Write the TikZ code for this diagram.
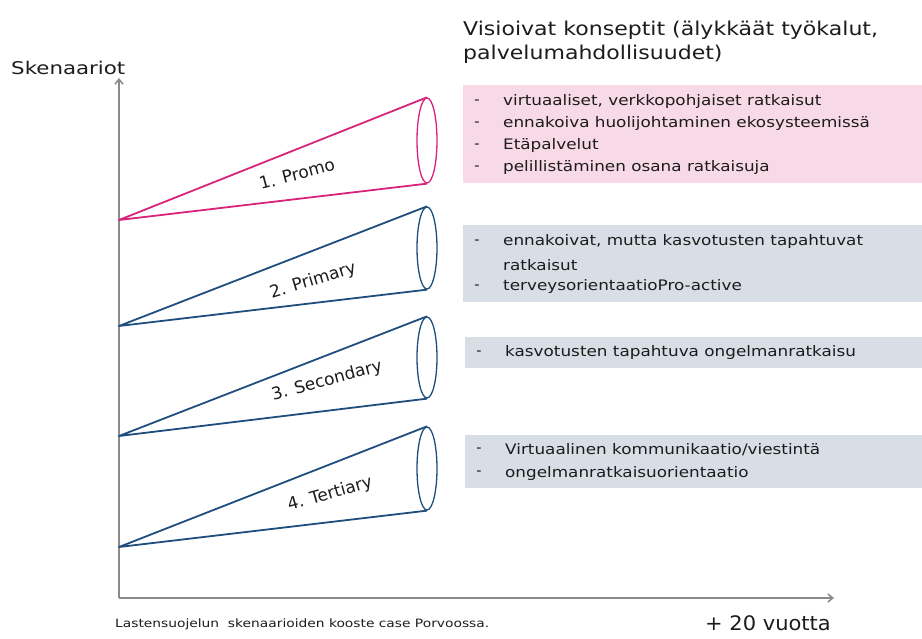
\documentclass[tikz,border=0pt]{standalone}
\usepackage{fontspec}
\setmainfont{DejaVu Sans}
\usetikzlibrary{shapes.geometric,arrows.meta}
\definecolor{promo}{HTML}{D9227A}
\definecolor{navy}{HTML}{1F4E7E}
\definecolor{pinkbg}{HTML}{F8D9E6}
\definecolor{bluebg}{HTML}{D7DEE6}
\definecolor{axisgray}{HTML}{8A8A8A}
\definecolor{txt}{HTML}{1C1C1C}
\newcommand\wx[2][1.15]{\scalebox{#1}[1]{#2}}
\begin{document}
\begin{tikzpicture}[x=1pt,y=-1pt,
  cone/.style={line width=1.8pt, line join=round},
  rim/.style={ellipse, draw, line width=1.3pt, minimum width=20pt, inner sep=0pt},
  lbl/.style={font=\fontsize{17}{20}\selectfont, text=txt, inner sep=0pt},
  box/.style={rectangle, anchor=north west, inner sep=0pt},
  item/.style={anchor=west, font=\fontsize{14.5}{17}\selectfont, text=txt, inner sep=0pt},
  bul/.style={anchor=center, font=\fontsize{14.5}{17}\selectfont, text=txt, inner sep=0pt},
  ax/.style={draw=axisgray, line width=1.5pt, -{Straight Barb[length=5pt,width=8pt]}}]
\useasboundingbox (0,0) rectangle (922,639);
% axes
\coordinate (O) at (119,598);
\coordinate (Ytop) at (119,78);
\coordinate (Xend) at (834,598);
\draw[ax] (O) -- (Ytop);
\draw[ax] (O) -- (Xend);
\node[anchor=west, font=\fontsize{17.5}{20}\selectfont, text=txt, inner sep=0pt] (ylab) at (11,68) {\wx[1.22]{Skenaariot}};
\node[anchor=center, font=\fontsize{20}{24}\selectfont, text=txt, inner sep=0pt] (xlab) at (768,623) {\wx[1.05]{+ 20 vuotta}};
\node[anchor=west, font=\fontsize{11.5}{12}\selectfont, text=txt, inner sep=0pt] (cap) at (115,624) {\wx[1.2]{Lastensuojelun\ \ skenaarioiden kooste case Porvoossa.}};
% title
\node[anchor=north west, font=\fontsize{19}{24}\selectfont, text=txt, inner sep=0pt] (title) at (463,19) {\wx[1.16]{\begin{tabular}{@{}l@{}}Visioivat konseptit (älykkäät työkalut,\\palvelumahdollisuudet)\end{tabular}}};
% cones
\coordinate (a1) at (119,220);
\coordinate (a2) at (119,326);
\coordinate (a3) at (119,436);
\coordinate (a4) at (119,547);
\node[rim, draw=promo, minimum height=85pt] (e1) at (427,140.5) {};
\node[rim, draw=navy, minimum height=82pt] (e2) at (427,248) {};
\node[rim, draw=navy, minimum height=81pt] (e3) at (427,357.5) {};
\node[rim, draw=navy, minimum height=83pt] (e4) at (427,468.5) {};
\draw[cone, draw=promo] (e1.north) -- (a1) -- (e1.south);
\draw[cone, draw=navy] (e2.north) -- (a2) -- (e2.south);
\draw[cone, draw=navy] (e3.north) -- (a3) -- (e3.south);
\draw[cone, draw=navy] (e4.north) -- (a4) -- (e4.south);
\node[lbl, rotate=15] (l1) at (297,174) {1. Promo};
\node[lbl, rotate=17] (l2) at (313,281) {2. Primary};
\node[lbl, rotate=15] (l3) at (327,381) {3. Secondary};
\node[lbl, rotate=16] (l4) at (330,494) {4. Tertiary};
% boxes
\node[box, fill=pinkbg, minimum width=459pt, minimum height=98pt] (b1) at (463,85) {};
\node[box, fill=bluebg, minimum width=459pt, minimum height=77pt] (b2) at (463,225) {};
\node[box, fill=bluebg, minimum width=457pt, minimum height=31pt] (b3) at (465,337) {};
\node[box, fill=bluebg, minimum width=457pt, minimum height=53pt] (b4) at (465,435) {};
% box 1 text
\node[bul] (d11) at (477,102) {-}; \node[item] (t11) at (503,102) {\wx[1.16]{virtuaaliset, verkkopohjaiset ratkaisut}};
\node[bul] (d12) at (477,124) {-}; \node[item] (t12) at (503,124) {\wx[1.16]{ennakoiva huolijohtaminen ekosysteemissä}};
\node[bul] (d13) at (477,146) {-}; \node[item] (t13) at (503,146) {\wx[1.16]{Etäpalvelut}};
\node[bul] (d14) at (477,168) {-}; \node[item] (t14) at (503,168) {\wx[1.16]{pelillistäminen osana ratkaisuja}};
% box 2 text
\node[bul] (d21) at (477,242) {-}; \node[item] (t21) at (503,242) {\wx[1.16]{ennakoivat, mutta kasvotusten tapahtuvat}};
\node[item] (t22) at (503,265) {\wx[1.16]{ratkaisut}};
\node[bul] (d23) at (477,287) {-}; \node[item] (t23) at (503,287) {\wx[1.16]{terveysorientaatioPro-active}};
% box 3 text
\node[bul] (d31) at (479,353) {-}; \node[item] (t31) at (505,353) {\wx[1.16]{kasvotusten tapahtuva ongelmanratkaisu}};
% box 4 text
\node[bul] (d41) at (479,450) {-}; \node[item] (t41) at (505,450) {\wx[1.16]{Virtuaalinen kommunikaatio/viestintä}};
\node[bul] (d42) at (479,473) {-}; \node[item] (t42) at (505,473) {\wx[1.16]{ongelmanratkaisuorientaatio}};
\end{tikzpicture}
\end{document}
